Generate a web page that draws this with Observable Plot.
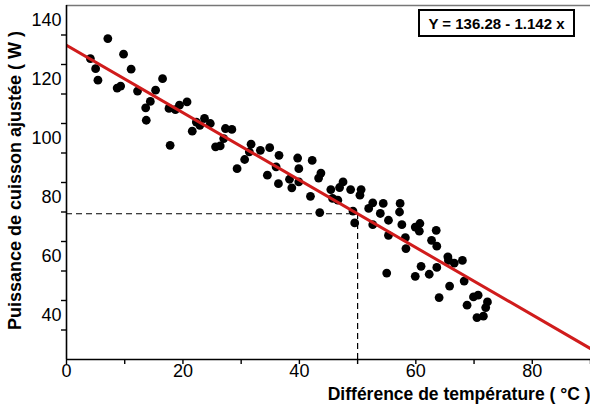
<!DOCTYPE html>
<html>
<head>
<meta charset="utf-8">
<script src="https://cdn.jsdelivr.net/npm/d3@7"></script>
<script src="https://cdn.jsdelivr.net/npm/@observablehq/plot@0.6"></script>
<style>
  html, body { margin: 0; padding: 0; background: #fff; }
  #wrap { position: relative; width: 590px; height: 409px; font-family: "Liberation Sans", Arial, sans-serif; }
  #eq { position: absolute; left: 418px; top: 9px; width: 153px; height: 24px; border: 2px solid #000;
        font: bold 15px "Liberation Sans", Arial, sans-serif; display: flex; align-items: center; justify-content: center; background: #fff; }
</style>
</head>
<body>
<div id="wrap"><div id="eq"></div></div>
<script>
// Measured points: temperature difference (°C) and adjusted cooking power (W)
const tempDiff = [4.1,5.0,5.4,7.1,9.8,11.1,8.7,9.3,12.2,16.5,15.3,14.4,13.6,13.7,17.6,18.7,19.4,20.7,17.8,21.6,
  22.3,22.9,23.7,24.7,25.6,26.4,27.0,27.3,28.4,29.3,30.6,31.7,31.4,33.3,34.9,34.5,36.0,36.5,36.4,38.3,
  38.7,39.7,39.9,39.9,41.9,42.2,43.3,43.7,43.5,45.4,45.7,46.6,46.9,47.5,48.8,50.6,50.4,49.2,49.5,51.9,
  52.6,53.9,52.6,54.4,55.3,55.3,57.3,57.2,57.6,59.9,60.7,60.6,58.2,58.3,63.5,62.7,63.6,55.0,60.9,59.9,
  62.3,63.6,65.5,65.6,66.6,68.0,68.3,65.8,64.0,69.9,70.7,68.8,72.3,72.0,70.5,71.6];
const power = [127.0,123.6,119.7,133.8,128.5,123.4,117.0,117.7,116.0,120.2,116.3,112.5,110.3,106.1,110.1,109.7,111.2,112.3,97.6,102.4,
  105.5,104.4,106.7,105.0,97.1,97.4,99.9,103.3,103.0,89.7,92.8,98.0,95.4,95.9,96.8,87.5,90.3,94.2,84.6,86.1,
  83.2,93.3,89.7,85.2,80.3,92.5,86.5,88.2,74.8,82.6,79.6,79.0,83.3,85.2,82.6,82.6,80.7,75.3,71.3,76.2,
  78.1,74.5,70.7,77.9,72.2,67.1,77.9,75.0,70.7,69.9,71.1,68.5,66.3,62.6,68.8,65.4,63.4,54.3,56.6,53.2,
  53.9,56.2,59.8,58.6,57.7,58.6,51.6,49.9,46.0,46.2,46.8,43.4,44.5,42.6,39.2,39.7];

// Fitted line as drawn (two end points) and the reading guide at 50 °C
const fitX = [0, 90];
const fitY = [131.5, 28.7];
const guideX = 50;
const guideY = 74.4;
const equation = "Y = 136.28 - 1.142 x";

// Axis ticks and labels
const xTickLabels = [0, 20, 40, 60, 80];
const xMinorTicks = [0, 10, 20, 30, 40, 50, 60, 70, 80, 90];
const yTickLabels = [40, 60, 80, 100, 120, 140];
const yMinorTicks = [35, 45, 55, 65, 75, 85, 95, 105, 115, 125, 135];
const xTitle = "Différence de température ( °C )";
const yTitle = "Puissance de cuisson ajustée ( W )";

const xDomain = [0, 90];
const yDomain = [25, 145];

const points = tempDiff.map((t, i) => ({t, p: power[i]}));
const fit = fitX.map((x, i) => ({x, y: fitY[i]}));

const chart = Plot.plot({
  width: 590,
  height: 409,
  marginLeft: 66,
  marginRight: 0,
  marginTop: 5,
  marginBottom: 50,
  style: {fontFamily: "'Liberation Sans', Arial, sans-serif", background: "#fff", color: "#000", overflow: "visible"},
  x: {domain: xDomain},
  y: {domain: yDomain},
  marks: [
    // top frame line
    Plot.ruleY([yDomain[1]], {stroke: "#777", strokeWidth: 1.5}),
    // guide lines
    Plot.ruleY([guideY], {x1: xDomain[0], x2: guideX, stroke: "#000", strokeWidth: 1.2, strokeDasharray: "6,4"}),
    Plot.ruleX([guideX], {y1: yDomain[0], y2: guideY, stroke: "#000", strokeWidth: 1.2, strokeDasharray: "6,4"}),
    Plot.dot(points, {x: "t", y: "p", r: 4.4, fill: "#000", stroke: null}),
    Plot.line(fit, {x: "x", y: "y", stroke: "#d01c1c", strokeWidth: 3, clip: true}),
    // axes
    Plot.ruleX([xDomain[0]], {stroke: "#000", strokeWidth: 1.6}),
    Plot.ruleY([yDomain[0]], {stroke: "#000", strokeWidth: 1.6}),
    Plot.axisX({ticks: xMinorTicks, tickSize: 5, tickFormat: () => "", label: null, strokeWidth: 1.4}),
    Plot.axisX({ticks: xTickLabels, tickSize: 0, tickPadding: 5, fontSize: 18, label: null}),
    Plot.axisY({ticks: yMinorTicks, tickSize: 5, tickFormat: () => "", label: null, strokeWidth: 1.4}),
    Plot.axisY({ticks: yTickLabels, tickSize: 0, tickPadding: 5, fontSize: 18, label: null}),
    Plot.text([xTitle], {frameAnchor: "bottom-right", dy: 35, textAnchor: "end", lineAnchor: "middle", fontWeight: "bold", fontSize: 17.5, fill: "#000"}),
    Plot.text([yTitle], {frameAnchor: "left", rotate: -90, dx: -51, dy: -2, textAnchor: "middle", fontWeight: "bold", fontSize: 18, fill: "#000"})
  ]
});

const wrap = document.getElementById("wrap");
wrap.insertBefore(chart, wrap.firstChild);
chart.style.position = "absolute";
chart.style.left = "0";
chart.style.top = "0";
document.getElementById("eq").textContent = equation;
</script>
</body>
</html>
